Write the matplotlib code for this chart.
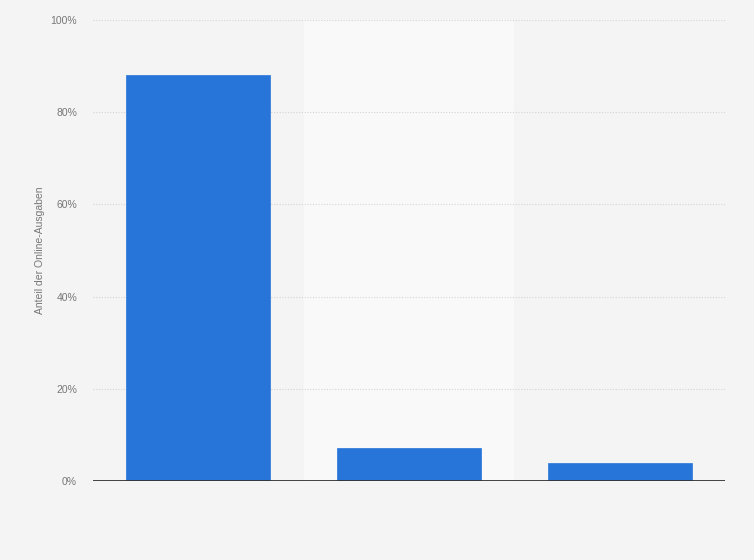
import matplotlib
matplotlib.use("Agg")
import matplotlib.pyplot as plt
from matplotlib.ticker import FuncFormatter

categories = ["Kategorie 1", "Kategorie 2", "Kategorie 3"]
values = [88.1, 7.2, 3.9]
yticks = [0, 20, 40, 60, 80, 100]

plt.rcParams['font.family'] = ['Liberation Sans', 'DejaVu Sans']

fig = plt.figure(figsize=(7.54, 5.6), dpi=100)
fig.patch.set_facecolor('#f4f4f4')
ax = fig.add_axes([93/754, 1-481/560, (725-93)/754, (481-20)/560])
ax.set_facecolor('#f4f4f4')

x = list(range(len(categories)))
ax.set_xlim(-0.5, len(categories)-0.5)
ax.set_ylim(0, 100)

# alternating bands
for i in x:
    if i % 2 == 1:
        ax.axvspan(i-0.5, i+0.5, color='#f9f9f9', zorder=0, lw=0)

for t in yticks[1:]:
    ax.axhline(t, color='#d4d4d4', lw=0.8, ls=(0, (1, 1.5)), zorder=1)

ax.bar(x, values, width=0.685, color='#2775d9', edgecolor='#2775d9', lw=0.5, zorder=2)
ax.axhline(0, color='#333333', lw=1.3, zorder=3)

ax.set_yticks(yticks)
ax.yaxis.set_major_formatter(FuncFormatter(lambda v, p: f"{int(v)}%"))
ax.tick_params(axis='y', length=0, labelsize=7.5, labelcolor='#777777', pad=11.5)
ax.set_xticks([])
for s in ax.spines.values():
    s.set_visible(False)
ax.set_ylabel("Anteil der Online-Ausgaben", fontsize=7.5, color='#777777', labelpad=4)

fig.savefig("out.png", dpi=100, facecolor=fig.get_facecolor())
